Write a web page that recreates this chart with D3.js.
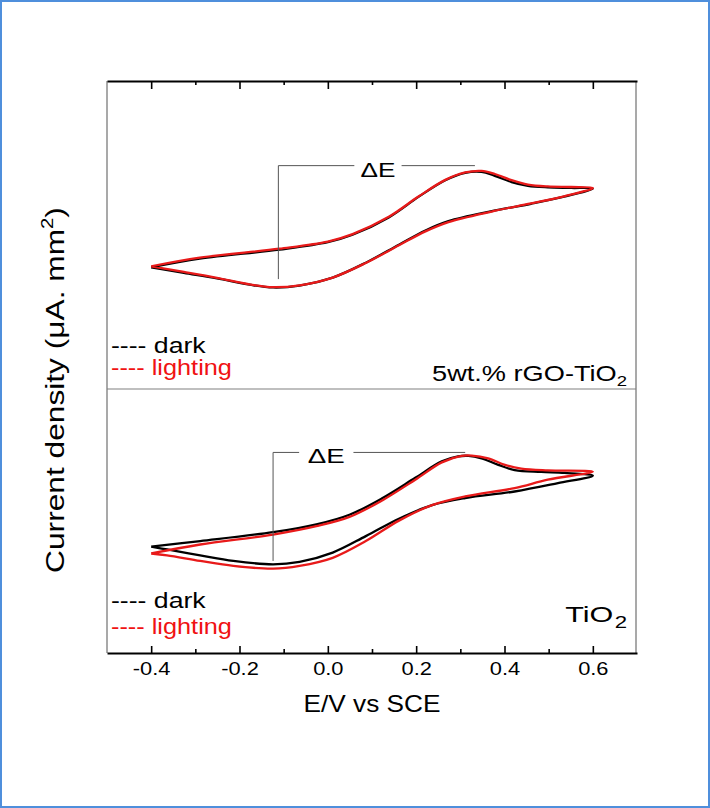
<!DOCTYPE html>
<html><head><meta charset="utf-8">
<script src="https://cdn.jsdelivr.net/npm/d3@7"></script>
<style>body{margin:0;background:#fff} text{font-family:"Liberation Sans",Arial,sans-serif}</style>
</head><body><svg id="c" width="710" height="808"></svg>
<script>
// ---------- data (potential E in V vs SCE, current density in arbitrary units) ----------
// 5wt.% rGO-TiO2 panel
const rgoLightFwdE = [-0.40,-0.29,-0.11,0.00,0.056,0.138,0.206,0.266,0.311,0.348,0.378,0.416,0.453,0.498,0.551,0.60];
const rgoLightFwdJ = [4.02,4.30,4.59,4.82,5.06,5.62,6.28,6.81,7.05,7.10,7.00,6.80,6.66,6.60,6.58,6.55];
const rgoLightRevE = [0.535,0.460,0.371,0.273,0.221,0.161,0.086,0.011,-0.064,-0.124,-0.177,-0.251,-0.326,-0.40];
const rgoLightRevJ = [6.28,6.05,5.79,5.45,5.15,4.70,4.13,3.66,3.41,3.35,3.44,3.65,3.84,4.02];
const rgoDarkFwdE  = rgoLightFwdE;
const rgoDarkFwdJ  = [3.99,4.27,4.56,4.80,5.04,5.60,6.27,6.80,7.04,7.07,6.94,6.74,6.62,6.57,6.55,6.53];
const rgoDarkRevE  = rgoLightRevE;
const rgoDarkRevJ  = [6.27,6.04,5.80,5.48,5.18,4.72,4.14,3.66,3.40,3.34,3.43,3.63,3.81,3.99];
// TiO2 panel
const tioDarkFwdE  = [-0.40,-0.289,-0.124,-0.026,0.049,0.124,0.198,0.258,0.295,0.318,0.348,0.386,0.423,0.483,0.536,0.60];
const tioDarkFwdJ  = [3.43,3.61,3.90,4.15,4.46,5.00,5.65,6.18,6.34,6.36,6.28,6.07,5.90,5.84,5.81,5.72];
const tioDarkRevE  = [0.521,0.423,0.311,0.236,0.161,0.086,0.011,-0.064,-0.124,-0.214,-0.289,-0.364,-0.40];
const tioDarkRevJ  = [5.48,5.21,5.00,4.77,4.33,3.77,3.24,2.94,2.86,2.97,3.15,3.34,3.43];
const tioLightFwdE = [-0.40,-0.289,-0.124,-0.026,0.049,0.124,0.198,0.258,0.303,0.326,0.363,0.401,0.438,0.498,0.60];
const tioLightFwdJ = [3.21,3.50,3.82,4.09,4.39,4.93,5.59,6.15,6.36,6.37,6.28,6.07,5.95,5.89,5.85];
const tioLightRevE = [0.498,0.423,0.311,0.236,0.161,0.086,0.011,-0.064,-0.124,-0.214,-0.289,-0.364,-0.40];
const tioLightRevJ = [5.59,5.32,5.05,4.77,4.27,3.61,3.07,2.81,2.72,2.81,2.97,3.15,3.21];
// peak potentials (cathodic, anodic) and the levels used for the ΔE bracket
const rgoPeakE = [-0.112, 0.333];
const rgoPeakJ = [3.61, 7.27];
const tioPeakE = [-0.124, 0.311];
const tioPeakJ = [2.97, 6.47];
// axis ticks
const majorTicks = [-0.4,-0.2,0.0,0.2,0.4,0.6];
const minorTicks = [-0.3,-0.1,0.1,0.3,0.5];
const legendLabels = ["dark","lighting"];
const seriesColors = ["#000000","#e81a1a"];
const legendColors = ["#000000","#f01212"];

// ---------- layout ----------
const svg = d3.select("#c");
const L = 107, R = 637, T = 81, B = 653, MID = 389;
const x = d3.scaleLinear().domain([-0.5,0.7]).range([L,R]);
const yTop = d3.scaleLinear().domain([0,10]).range([391,81]);
const yBot = d3.scaleLinear().domain([0,8]).range([653,405]);

svg.append("rect").attr("x",1).attr("y",1).attr("width",708).attr("height",806)
  .attr("fill","none").attr("stroke","#4f8fdc").attr("stroke-width",2);

function label(parent, o, build){
  const g = parent.append("g");
  const t = g.append("text").attr("text-anchor",o.anchor||"start")
    .attr("font-size",o.size).attr("fill",o.fill||"#000");
  build(t);
  const nat = t.node().getBBox().width;
  const s = o.w ? o.w/nat : 1;
  g.attr("transform",`translate(${o.x},${o.y}) rotate(${o.rot||0}) scale(${s},1)`);
  return g;
}

// frame side lines and separator
svg.append("line").attr("x1",L).attr("x2",L).attr("y1",T).attr("y2",B).attr("stroke","#707070").attr("stroke-width",1.2);
svg.append("line").attr("x1",R-1).attr("x2",R-1).attr("y1",T).attr("y2",B).attr("stroke","#707070").attr("stroke-width",1.2);
svg.append("line").attr("x1",L).attr("x2",R-1).attr("y1",MID).attr("y2",MID).attr("stroke","#808080").attr("stroke-width",1.2);

// top axis (ticks inward)
const topAx = svg.append("g").attr("transform",`translate(0,${T})`);
topAx.call(d3.axisBottom(x).tickValues(majorTicks).tickSizeInner(8).tickSizeOuter(0).tickFormat(""));
const topMin = svg.append("g").attr("transform",`translate(0,${T})`);
topMin.call(d3.axisBottom(x).tickValues(minorTicks).tickSizeInner(4).tickSizeOuter(0).tickFormat(""));
topMin.select(".domain").remove();
// bottom axis (ticks inward, labels below)
const botAx = svg.append("g").attr("transform",`translate(0,${B})`);
botAx.call(d3.axisBottom(x).tickValues(majorTicks).tickSizeInner(-7).tickSizeOuter(0).tickPadding(9).tickFormat(d=>d.toFixed(1)));
const botMin = svg.append("g").attr("transform",`translate(0,${B})`);
botMin.call(d3.axisBottom(x).tickValues(minorTicks).tickSizeInner(-4).tickSizeOuter(0).tickFormat(""));
botMin.select(".domain").remove();
svg.selectAll(".domain").attr("stroke","#000").attr("stroke-width",2);
svg.selectAll(".tick line").attr("stroke","#000").attr("stroke-width",1.6);
botAx.selectAll(".tick text").attr("font-size",19).attr("fill","#000")
  .attr("font-family",'"Liberation Sans",Arial,sans-serif')
  .each(function(){ const w=this.getComputedTextLength(); d3.select(this).attr("textLength",w*1.15).attr("lengthAdjust","spacingAndGlyphs"); });

// ---------- curves ----------
const zip = (E,J)=>E.map((e,i)=>[e,J[i]]);
function drawLoop(y, fE,fJ,rE,rJ,color){
  const pts = zip(fE,fJ).concat(zip(rE,rJ));
  const line = d3.line().x(d=>x(d[0])).y(d=>y(d[1])).curve(d3.curveCatmullRom.alpha(0.5));
  svg.append("path").attr("d",line(pts)).attr("fill","none").attr("stroke",color)
    .attr("stroke-width",2.3).attr("stroke-linejoin","round");
}
drawLoop(yTop, rgoDarkFwdE,rgoDarkFwdJ,rgoDarkRevE,rgoDarkRevJ, seriesColors[0]);
drawLoop(yTop, rgoLightFwdE,rgoLightFwdJ,rgoLightRevE,rgoLightRevJ, seriesColors[1]);
drawLoop(yBot, tioDarkFwdE,tioDarkFwdJ,tioDarkRevE,tioDarkRevJ, seriesColors[0]);
drawLoop(yBot, tioLightFwdE,tioLightFwdJ,tioLightRevE,tioLightRevJ, seriesColors[1]);

// ---------- ΔE brackets ----------
function deltaE(y, pE, pJ, gap0, gap1, textW){
  const x0 = x(pE[0]), x1 = x(pE[1]), yl = y(pJ[1]), yb = y(pJ[0]);
  const g = svg.append("g").attr("stroke","#555").attr("stroke-width",1);
  g.append("line").attr("x1",x0).attr("x2",x0).attr("y1",yl).attr("y2",yb);
  const xm = (gap0+gap1)/2;
  g.append("line").attr("x1",x0).attr("x2",x(gap0)).attr("y1",yl).attr("y2",yl);
  g.append("line").attr("x1",x(gap1)).attr("x2",x1).attr("y1",yl).attr("y2",yl);
  label(svg,{x:x(xm),y:yl+11,anchor:"middle",size:21,w:textW},t=>t.text("ΔE"));
}
deltaE(yTop, rgoPeakE, rgoPeakJ, 0.060, 0.167, 35);
deltaE(yBot, tioPeakE, tioPeakJ, -0.065, 0.058, 37);

// ---------- legends & labels ----------
function legend(y0, dy){
  legendLabels.forEach((lab,i)=>{
    label(svg,{x:111,y:y0+i*dy,size:21.5,fill:legendColors[i],w:i?121:95},t=>t.text("---- "+lab));
  });
}
legend(353, 21.5);
legend(608, 26);

label(svg,{x:627,y:381,anchor:"end",size:22,w:195},t=>{
  t.append("tspan").text("5wt.% rGO-TiO");
  t.append("tspan").attr("font-size",15).attr("dy",5).text("2");
});
label(svg,{x:627,y:622,anchor:"end",size:22,w:62},t=>{
  t.append("tspan").text("TiO");
  t.append("tspan").attr("font-size",16).attr("dy",6).attr("dx",1).text("2");
});

label(svg,{x:372,y:712,anchor:"middle",size:24,w:137},t=>t.text("E/V vs SCE"));

label(svg,{x:64,y:390,rot:-90,anchor:"middle",size:25,w:366},t=>{
  t.append("tspan").text("Current density (μA. mm");
  t.append("tspan").attr("font-size",16).attr("dy",-11).text("2");
  t.append("tspan").attr("dy",11).text(")");
});
</script></body></html>
